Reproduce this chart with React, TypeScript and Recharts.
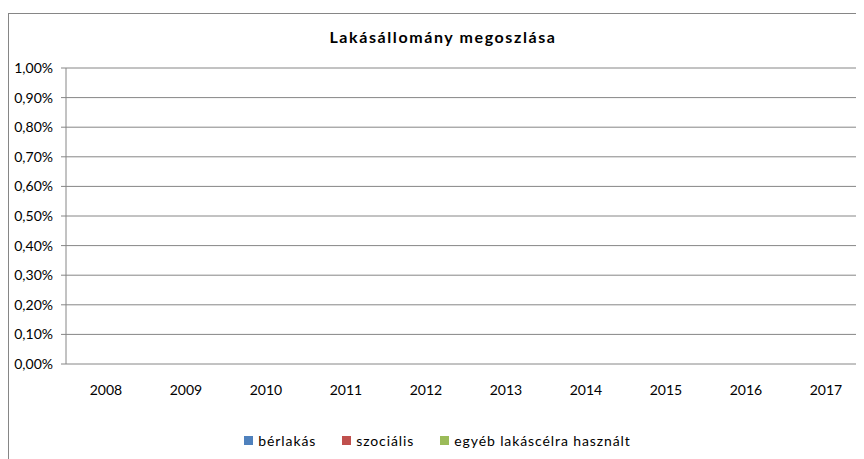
import { BarChart, Bar, XAxis, YAxis, CartesianGrid, Legend } from 'recharts';

const years = ['2008', '2009', '2010', '2011', '2012', '2013', '2014', '2015', '2016', '2017'];
const berlakas = [0, 0, 0, 0, 0, 0, 0, 0, 0, 0];
const szocialis = [0, 0, 0, 0, 0, 0, 0, 0, 0, 0];
const egyeb = [0, 0, 0, 0, 0, 0, 0, 0, 0, 0];
const yTicks = [0, 0.001, 0.002, 0.003, 0.004, 0.005, 0.006, 0.007, 0.008, 0.009, 0.01];
const seriesKeys = ['berlakas', 'szocialis', 'egyeb'];

const data = years.map((year, i) => ({
  year,
  berlakas: berlakas[i],
  szocialis: szocialis[i],
  egyeb: egyeb[i],
}));

// category boundaries, for the Excel-style ticks between the years
const edgeTicks = [...years.map((_, i) => i), years.length];

const font = 'Lato, "Open Sans", sans-serif';
const gray = '#868686';

const pct = (v: number) => (v * 100).toFixed(2).replace('.', ',') + '%';

function LegendContent({ payload }: any) {
  return (
    <div style={{ display: 'flex', justifyContent: 'center', gap: 26, fontSize: 14, letterSpacing: 0.9, color: '#000' }}>
      {(payload || []).map((p: any) => (
        <div key={p.value} style={{ display: 'flex', alignItems: 'center', gap: 5 }}>
          <span style={{ width: 9, height: 9, background: p.color, display: 'inline-block' }} />
          <span>{p.value}</span>
        </div>
      ))}
    </div>
  );
}

export default function App() {
  return (
    <div style={{ width: 856, height: 451, overflow: 'hidden', position: 'relative', fontFamily: font }}>
      <div
        style={{
          position: 'absolute',
          left: 0,
          top: 5,
          width: 868,
          height: 458,
          border: `1px solid ${gray}`,
          background: '#fff',
        }}
      >
        <div
          style={{
            position: 'absolute',
            top: 13,
            left: 0,
            width: '100%',
            textAlign: 'center',
            fontWeight: 'bold',
            fontSize: 16,
            letterSpacing: 1.6,
            color: '#000',
          }}
        >
          Lakásállomány megoszlása
        </div>
        <BarChart
          width={868}
          height={458}
          data={data}
          margin={{ top: 54, right: 11, left: 0, bottom: 61 }}
          barGap={0}
        >
          <CartesianGrid vertical={false} stroke={gray} />
          <XAxis
            xAxisId="edges"
            type="number"
            domain={[0, years.length]}
            ticks={edgeTicks}
            allowDataOverflow
            height={0}
            tickSize={5}
            tickFormatter={() => ''}
            stroke={gray}
          />
          <XAxis
            dataKey="year"
            height={30}
            axisLine={false}
            tickLine={false}
            tickMargin={15}
            tick={{ fill: '#000', fontSize: 14, fontFamily: font }}
            interval={0}
          />
          <YAxis
            domain={[0, 0.01]}
            ticks={yTicks}
            tickFormatter={pct}
            width={57}
            tickSize={5}
            tickMargin={8}
            stroke={gray}
            tick={{ fill: '#000', fontSize: 14, fontFamily: font }}
            interval={0}
          />
          <Legend
            verticalAlign="bottom"
            itemSorter={(item: any) => seriesKeys.indexOf(item.dataKey)}
            content={<LegendContent />}
            wrapperStyle={{ bottom: 23 }}
          />
          <Bar dataKey="berlakas" name="bérlakás" fill="#4F81BD" isAnimationActive={false} />
          <Bar dataKey="szocialis" name="szociális" fill="#C0504D" isAnimationActive={false} />
          <Bar dataKey="egyeb" name="egyéb lakáscélra használt" fill="#9BBB59" isAnimationActive={false} />
        </BarChart>
      </div>
    </div>
  );
}
